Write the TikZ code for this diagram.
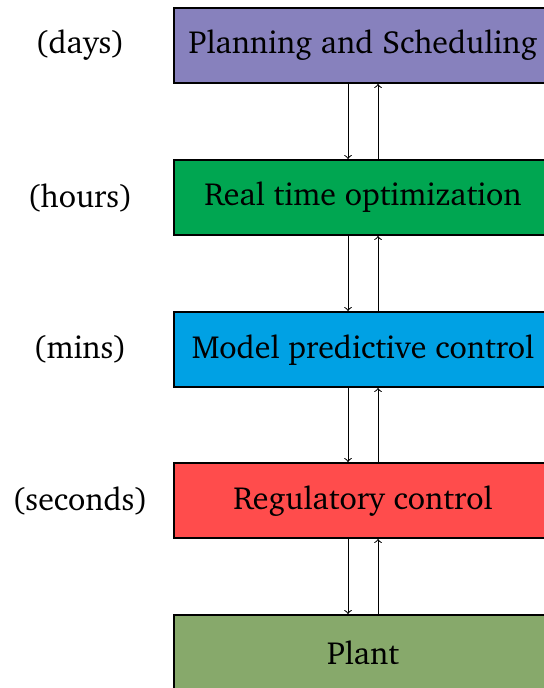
\documentclass[tikz,border=0pt]{standalone}
\usepackage[T1]{fontenc}
\usepackage{charter}
\definecolor{cplan}{RGB}{135,129,189}
\definecolor{crto}{RGB}{0,166,81}
\definecolor{cmpc}{RGB}{0,161,228}
\definecolor{creg}{RGB}{255,76,76}
\definecolor{cplant}{RGB}{135,169,107}
\begin{document}
\begin{tikzpicture}[x=0.5pt,y=-0.5pt,
  layer/.style={draw=black,line width=1pt,minimum width=189pt,minimum height=37.5pt,inner sep=0pt,
    font=\fontsize{16}{19}\selectfont},
  tscale/.style={font=\fontsize{16}{19}\selectfont,inner sep=0pt},
  link/.style={line width=0.5pt,->}]
\useasboundingbox (0,0) rectangle (543,688);
\node[layer,fill=cplan] (plan) at (363,45.5) {Planning and Scheduling};
\node[layer,fill=crto] (rto) at (363,197.5) {Real time optimization};
\node[layer,fill=cmpc] (mpc) at (363,349.5) {Model predictive control};
\node[layer,fill=creg] (reg) at (363,500.5) {Regulatory control};
\node[layer,fill=cplant] (plant) at (363,652.5) {Plant};
\node[tscale] (t1) at (80,45.5) {(days)};
\node[tscale] (t2) at (80,197.5) {(hours)};
\node[tscale] (t3) at (80,349.5) {(mins)};
\node[tscale] (t4) at (80,500.5) {(seconds)};
\foreach \a/\b in {plan/rto,rto/mpc,mpc/reg,reg/plant}{
  \draw[link] ([xshift=-7.5pt]\a.south) -- ([xshift=-7.5pt]\b.north);
  \draw[link] ([xshift=7.5pt]\b.north) -- ([xshift=7.5pt]\a.south);
}
\end{tikzpicture}
\end{document}
